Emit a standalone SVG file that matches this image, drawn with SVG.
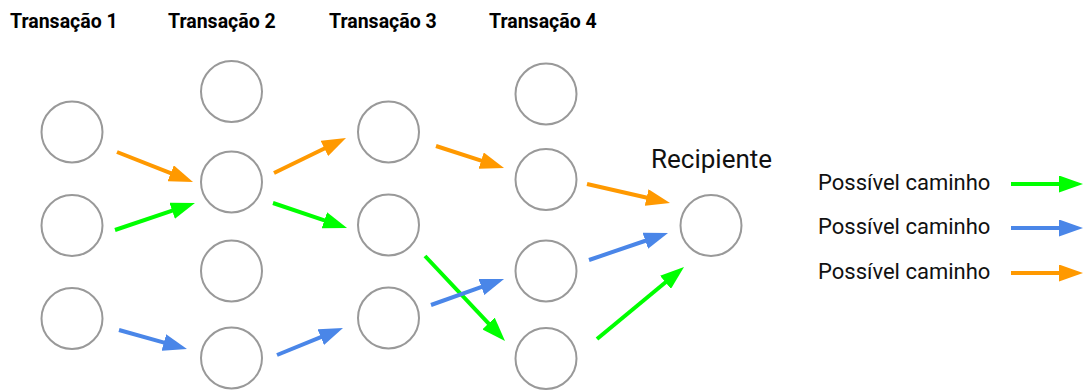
<svg xmlns="http://www.w3.org/2000/svg" width="1085" height="390" viewBox="0 0 1085 390">
<defs>
<style>
.n{fill:#fff;stroke:#999;stroke-width:2}
.t{font-family:Roboto,"Liberation Sans",sans-serif;font-weight:bold;font-size:19.5px;fill:#000}
.l{font-family:Roboto,"Liberation Sans",sans-serif;font-size:22px;fill:#111}
.o{stroke:#FF9900;stroke-width:4;fill:none;marker-end:url(#ao)}
.g{stroke:#00FF00;stroke-width:4;fill:none;marker-end:url(#ag)}
.b{stroke:#4A86E8;stroke-width:4;fill:none;marker-end:url(#ab)}
</style>
<marker id="ao" viewBox="0 0 24 17" refX="4" refY="8.5" markerWidth="24" markerHeight="17" markerUnits="userSpaceOnUse" orient="auto"><path d="M0,0L24,8.5L0,17z" fill="#FF9900"/></marker>
<marker id="ag" viewBox="0 0 24 17" refX="4" refY="8.5" markerWidth="24" markerHeight="17" markerUnits="userSpaceOnUse" orient="auto"><path d="M0,0L24,8.5L0,17z" fill="#00FF00"/></marker>
<marker id="ab" viewBox="0 0 24 17" refX="4" refY="8.5" markerWidth="24" markerHeight="17" markerUnits="userSpaceOnUse" orient="auto"><path d="M0,0L24,8.5L0,17z" fill="#4A86E8"/></marker>
</defs>
<rect width="1085" height="390" fill="#fff"/>
<g id="titles">
<text class="t" x="10" y="28">Transação 1</text>
<text class="t" x="168" y="28">Transação 2</text>
<text class="t" x="329" y="28">Transação 3</text>
<text class="t" x="489" y="28">Transação 4</text>
</g>
<g id="n1a"><circle class="n" cx="72" cy="132" r="30.5"/></g>
<g id="n1b"><circle class="n" cx="72" cy="225.5" r="30.5"/></g>
<g id="n1c"><circle class="n" cx="72" cy="318.5" r="30.5"/></g>
<g id="n2a"><circle class="n" cx="231.5" cy="91.5" r="30.5"/></g>
<g id="n2b"><circle class="n" cx="231.5" cy="182" r="30.5"/></g>
<g id="n2c"><circle class="n" cx="231.5" cy="271" r="30.5"/></g>
<g id="n2d"><circle class="n" cx="231.5" cy="358" r="30.5"/></g>
<g id="n3a"><circle class="n" cx="388.5" cy="132" r="30.5"/></g>
<g id="n3b"><circle class="n" cx="388.5" cy="225" r="30.5"/></g>
<g id="n3c"><circle class="n" cx="388.5" cy="318" r="30.5"/></g>
<g id="n4a"><circle class="n" cx="546" cy="94" r="30.5"/></g>
<g id="n4b"><circle class="n" cx="546" cy="179.5" r="30.5"/></g>
<g id="n4c"><circle class="n" cx="546" cy="271" r="30.5"/></g>
<g id="n4d"><circle class="n" cx="546" cy="358.5" r="30.5"/></g>
<g id="recipient"><circle class="n" cx="711" cy="225.5" r="30.5"/><text class="l" x="651" y="168" style="font-size:26px">Recipiente</text></g>
<g id="connectors">
<path class="o" d="M117,152L174.4,174.7"/>
<path class="g" d="M115,230L176,209.4"/>
<path class="b" d="M119,330L167.7,343.6"/>
<path class="o" d="M274,173L328,146.7"/>
<path class="g" d="M273,203L328.1,221.6"/>
<path class="o" d="M436,146L485,161.8"/>
<path class="b" d="M277,355L324.5,335.6"/>
<path class="g" d="M425,256L491.3,326.4"/>
<path class="b" d="M431,305L485.2,285.7"/>
<path class="o" d="M587,184L650.5,198.5"/>
<path class="b" d="M589,260L649.1,239.5"/>
<path class="g" d="M597,339L668.6,279.8"/>
</g>
<g id="legend">
<text class="l" x="818" y="190">Possível caminho</text>
<text class="l" x="818" y="234">Possível caminho</text>
<text class="l" x="818" y="279">Possível caminho</text>
<path class="g" d="M1011,184L1063,184"/>
<path class="b" d="M1011,228L1063,228"/>
<path class="o" d="M1011,273L1063,273"/>
</g>
</svg>
